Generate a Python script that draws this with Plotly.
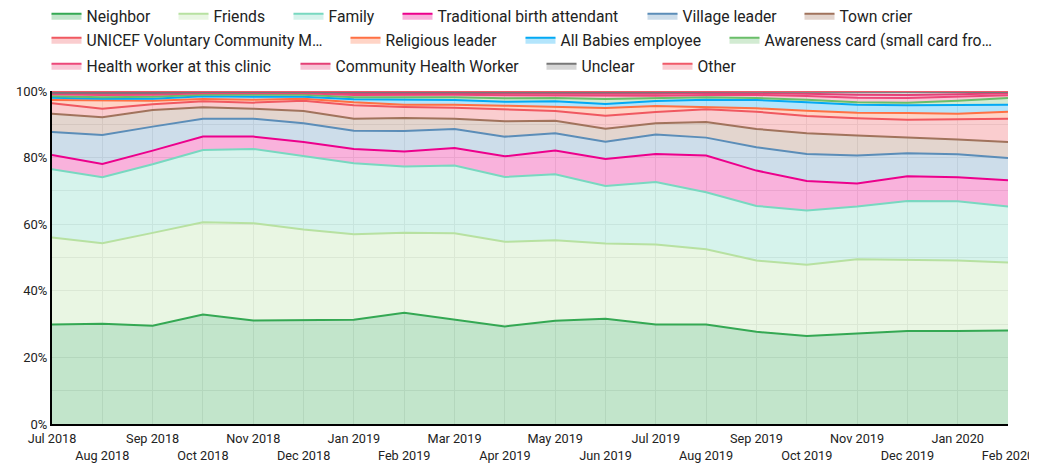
import plotly.graph_objects as go

months = ["Jul 2018", "Aug 2018", "Sep 2018", "Oct 2018", "Nov 2018", "Dec 2018",
          "Jan 2019", "Feb 2019", "Mar 2019", "Apr 2019", "May 2019", "Jun 2019",
          "Jul 2019", "Aug 2019", "Sep 2019", "Oct 2019", "Nov 2019", "Dec 2019",
          "Jan 2020", "Feb 2020"]

neighbor = [29.9, 30.1, 29.5, 32.9, 31.1, 31.2, 31.3, 33.4, 31.4, 29.3, 31.0, 31.6, 29.9, 29.9, 27.7, 26.4, 27.2, 27.9, 27.9, 28.1]
friends = [26.1, 24.2, 27.9, 27.7, 29.2, 27.2, 25.7, 24.0, 25.9, 25.4, 24.2, 22.6, 24.0, 22.6, 21.4, 21.4, 22.3, 21.4, 21.2, 20.4]
family = [20.5, 19.8, 20.6, 21.7, 22.3, 22.1, 21.3, 19.9, 20.3, 19.5, 19.8, 17.3, 18.8, 17.1, 16.4, 16.3, 15.8, 17.7, 17.8, 16.8]
tba = [4.3, 4.0, 4.1, 4.0, 3.7, 4.2, 4.3, 4.5, 5.3, 6.2, 7.1, 8.1, 8.4, 11.0, 10.6, 8.9, 6.9, 7.4, 7.2, 7.9]
village_leader = [6.9, 8.7, 7.2, 5.4, 5.4, 5.6, 5.5, 6.2, 5.7, 5.9, 5.2, 5.2, 5.8, 5.4, 7.0, 8.1, 8.4, 6.9, 6.9, 6.7]
town_crier = [5.5, 5.3, 5.0, 3.4, 3.0, 3.7, 3.6, 3.9, 3.1, 4.6, 3.8, 3.9, 3.4, 4.7, 5.5, 6.2, 6.0, 4.8, 4.4, 4.8]
unicef = [3.1, 2.6, 1.7, 1.8, 1.8, 3.1, 4.0, 3.3, 3.3, 3.5, 2.9, 3.9, 3.4, 3.8, 5.2, 5.2, 5.2, 5.3, 6.2, 7.0]
religious = [1.0, 2.4, 1.1, 0.7, 0.9, 0.6, 0.9, 0.7, 0.9, 1.2, 1.3, 2.3, 1.8, 0.6, 1.0, 1.6, 1.7, 2.0, 1.6, 2.1]
all_babies = [0.7, 0.6, 0.6, 0.8, 0.9, 0.6, 0.9, 1.5, 1.4, 1.2, 1.6, 1.2, 1.5, 2.3, 2.5, 2.5, 2.4, 2.3, 2.6, 2.1]
awareness = [0.4, 0.4, 0.6, 0.5, 0.6, 0.6, 0.6, 0.7, 0.8, 1.0, 1.0, 1.5, 0.8, 0.7, 0.6, 0.8, 0.7, 0.8, 1.3, 2.0]
hw_clinic = [0.6, 0.7, 0.6, 0.4, 0.4, 0.4, 0.7, 0.8, 0.8, 0.9, 0.8, 0.9, 0.8, 0.7, 0.9, 1.1, 1.4, 1.4, 1.1, 0.8]
chw = [0.4, 0.5, 0.5, 0.3, 0.3, 0.3, 0.5, 0.4, 0.4, 0.5, 0.5, 0.6, 0.6, 0.6, 0.6, 0.7, 0.9, 0.9, 0.8, 0.6]
unclear = [0.1, 0.1, 0.1, 0.1, 0.1, 0.1, 0.2, 0.2, 0.2, 0.3, 0.3, 0.5, 0.4, 0.4, 0.4, 0.5, 0.8, 0.9, 0.7, 0.4]
other = [0.5, 0.6, 0.5, 0.3, 0.3, 0.3, 0.5, 0.5, 0.5, 0.5, 0.5, 0.4, 0.4, 0.2, 0.2, 0.3, 0.3, 0.3, 0.3, 0.3]

series_names = ["Neighbor", "Friends", "Family", "Traditional birth attendant", "Village leader",
                "Town crier", "UNICEF Voluntary Community M…", "Religious leader",
                "All Babies employee", "Awareness card (small card fro…",
                "Health worker at this clinic", "Community Health Worker", "Unclear", "Other"]
series_values = [neighbor, friends, family, tba, village_leader, town_crier, unicef, religious,
                 all_babies, awareness, hw_clinic, chw, unclear, other]
series_colors = [(52, 168, 83), (183, 225, 161), (120, 216, 192), (236, 0, 140), (91, 141, 184),
                 (161, 115, 92), (240, 88, 96), (255, 112, 67), (3, 169, 244), (106, 190, 105),
                 (236, 72, 122), (228, 64, 118), (120, 120, 120), (240, 90, 105)]
# legend layout: (left px of swatch on screen, row index)
legend_slots = [(51, 0), (178, 0), (293, 0), (402, 0), (647, 0), (804, 0),
                (51, 1), (350, 1), (525, 1), (729, 1),
                (51, 2), (300, 2), (546, 2), (662, 2)]
row_y = [8, 32, 58]

# the page places the figure 8px from the window's top-left corner
W, H = 1037, 469
fig = go.Figure()
legend_layouts = {}
for i, (name, vals, (r, g, b), (sx, row)) in enumerate(zip(series_names, series_values, series_colors, legend_slots)):
    lid = "legend" if i == 0 else f"legend{i + 1}"
    fig.add_trace(go.Scatter(
        x=months, y=vals, name=name, mode="lines", stackgroup="one",
        line=dict(color=f"rgb({r},{g},{b})", width=2),
        fillcolor=f"rgba({r},{g},{b},0.3)",
        legend=lid,
    ))
    legend_layouts[lid] = dict(
        orientation="h", xref="container", yref="container",
        x=(sx - 12.5) / W, xanchor="left", y=1 - row_y[row] / H, yanchor="middle",
        font=dict(family="Roboto", size=15.7, color="#222"),
        bgcolor="rgba(0,0,0,0)", itemclick=False,
    )

ticktext = [m if i % 2 == 0 else "<br>" + m for i, m in enumerate(months)]

fig.update_layout(
    width=W, height=H,
    margin=dict(l=44, r=37, t=83, b=53, autoexpand=False),
    paper_bgcolor="white", plot_bgcolor="white",
    font=dict(family="Roboto", size=13, color="#222"),
    showlegend=True,
    xaxis=dict(
        type="category", range=[0, 19],
        tickmode="array", tickvals=months, ticktext=ticktext, tickangle=0,
        showgrid=True, gridcolor="#ebebeb", gridwidth=1,
        showline=True, linecolor="black", linewidth=2,
        ticks="", tickfont=dict(family="Roboto", size=12.7, color="#222"),
        ticklabelstandoff=2,
        zeroline=False,
    ),
    yaxis=dict(
        range=[0, 100], tickvals=[0, 20, 40, 60, 80, 100],
        ticktext=["0%", "20%", "40%", "60%", "80%", "100%"],
        showgrid=True, gridcolor="#ebebeb", gridwidth=1,
        minor=dict(tickvals=[10, 30, 50, 70, 90], showgrid=True, gridcolor="#ebebeb", gridwidth=1),
        showline=True, linecolor="black", linewidth=2,
        ticks="", tickfont=dict(family="Roboto", size=13, color="#222"),
        zeroline=False,
    ),
    **legend_layouts,
)

fig.write_html("out.html")
